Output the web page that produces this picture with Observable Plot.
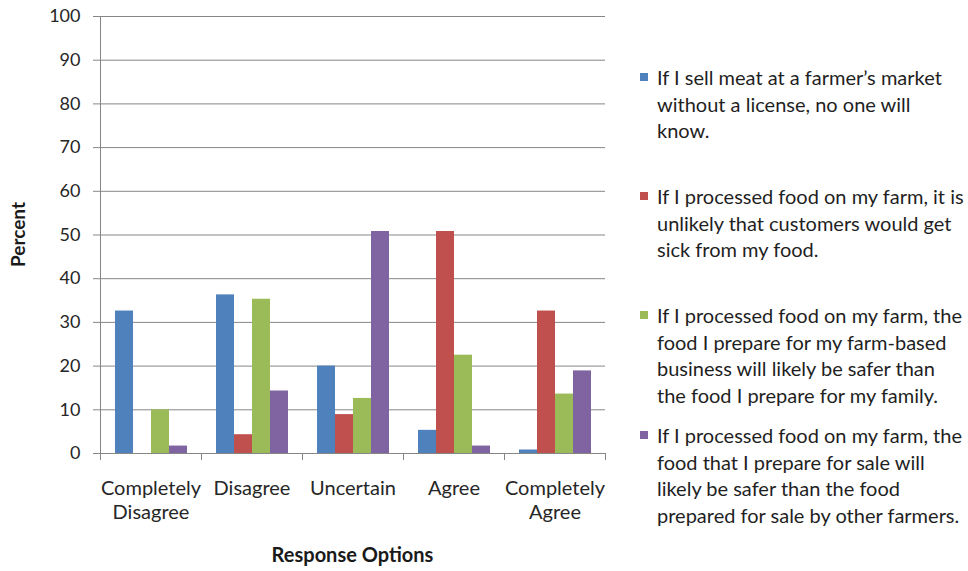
<!DOCTYPE html>
<html>
<head>
<meta charset="utf-8">
<script src="https://cdn.jsdelivr.net/npm/d3@7"></script>
<script src="https://cdn.jsdelivr.net/npm/@observablehq/plot@0.6"></script>
<style>
  body { margin: 0; background: #fff; font-family: Lato, "Open Sans", sans-serif; }
  #wrap { position: relative; width: 968px; height: 571px; overflow: hidden; }
  #chart { position: absolute; left: 0; top: 0; }
  .leg { position: absolute; left: 640px; font-size: 20px; line-height: 26.5px; color: #1f1f1f; white-space: pre; }
  .leg .sw { position: absolute; left: 0; top: 9px; width: 8px; height: 8px; }
  .leg .tx { margin-left: 17px; }
</style>
</head>
<body>
<div id="wrap"><div id="chart"></div><div id="legend"></div></div>
<script>
// ---- data ----
const categories = ["Completely Disagree", "Disagree", "Uncertain", "Agree", "Completely Agree"];
const categoryLabels = ["Completely\nDisagree", "Disagree", "Uncertain", "Agree", "Completely\nAgree"];
const seriesKeys = ["sellMeat", "unlikelySick", "saferThanFamily", "saferThanOthers"];
const seriesNames = [
  "If I sell meat at a farmer\u2019s market\nwithout a license, no one will\nknow.",
  "If I processed food on my farm, it is\nunlikely that customers would get\nsick from my food.",
  "If I processed food on my farm, the\nfood I prepare for my farm-based\nbusiness will likely be safer than\nthe food I prepare for my family.",
  "If I processed food on my farm, the\nfood that I prepare for sale will\nlikely be safer than the food\nprepared for sale by other farmers."
];
const sellMeat        = [32.6, 36.3, 20.0, 5.3, 0.8];
const unlikelySick    = [0.0, 4.3, 8.9, 50.8, 32.6];
const saferThanFamily = [10.0, 35.3, 12.6, 22.5, 13.6];
const saferThanOthers = [1.7, 14.3, 50.8, 1.7, 18.9];
const yTicks = [0, 10, 20, 30, 40, 50, 60, 70, 80, 90, 100];
const colors = ["#4F81BD", "#C0504D", "#9BBB59", "#8064A2"];

const seriesValues = [sellMeat, unlikelySick, saferThanFamily, saferThanOthers];
const data = categories.flatMap((c, i) =>
  seriesKeys.map((k, j) => ({cat: c, key: k, value: seriesValues[j][i]}))
);

const gridColor = "#868686";

const chart = Plot.plot({
  width: 625,
  height: 571,
  marginLeft: 100,
  marginRight: 20,
  marginTop: 16,
  marginBottom: 118,
  style: {fontFamily: "Lato, 'Open Sans', sans-serif", fontSize: "17px", color: "#262626", background: "white"},
  fx: {domain: categories, padding: 0, label: null, axis: null},
  x: {domain: seriesKeys, paddingInner: 0, paddingOuter: 0.71, axis: null},
  y: {domain: [0, 100], label: null},
  color: {domain: seriesKeys, range: colors},
  marks: [
    Plot.ruleY(yTicks, {stroke: gridColor, strokeWidth: 1}),
    Plot.barY(data, {fx: "cat", x: "key", y: "value", fill: "key"}),
    Plot.axisY({ticks: yTicks, tickSize: 7, tickPadding: 13, stroke: gridColor, fontSize: 18, label: null}),
    Plot.axisFx({anchor: "bottom", tickSize: 0, tickPadding: 24, fontSize: 20, lineHeight: 1.2, label: null,
      tickFormat: d => categoryLabels[categories.indexOf(d)]})
  ]
});

document.getElementById("chart").appendChild(chart);

// axis line and category separator ticks, from the library's scales
const svg = d3.select(chart.tagName.toLowerCase() === "svg" ? chart : chart.querySelector("svg"));
const fxs = chart.scale("fx");
const ys = chart.scale("y");
const [x0, x1] = fxs.range;
const [yb, yt] = ys.range;
const step = (x1 - x0) / categories.length;
const g = svg.append("g").attr("stroke", gridColor).attr("stroke-width", 1);
g.append("line").attr("x1", x0 + 0.5).attr("x2", x0 + 0.5).attr("y1", yt).attr("y2", yb + 7);
for (let i = 1; i <= categories.length; i++) {
  const x = Math.round(x0 + i * step) + 0.5;
  g.append("line").attr("x1", x).attr("x2", x).attr("y1", yb).attr("y2", yb + 7);
}
svg.append("text")
  .attr("transform", `translate(20,${(yt + yb) / 2}) rotate(-90)`)
  .attr("text-anchor", "middle").attr("dominant-baseline", "middle")
  .attr("font-weight", "bold").attr("font-size", 19).attr("fill", "#1a1a1a")
  .text("Percent");
svg.append("text")
  .attr("x", (x0 + x1) / 2).attr("y", yb + 104)
  .attr("text-anchor", "middle").attr("dominant-baseline", "middle")
  .attr("font-weight", "bold").attr("font-size", 20).attr("fill", "#1a1a1a")
  .text("Response Options");

// legend
const legendTops = [64, 183, 302, 422];
const legend = document.getElementById("legend");
seriesNames.forEach((name, i) => {
  const d = document.createElement("div");
  d.className = "leg";
  d.style.top = legendTops[i] + "px";
  const sw = document.createElement("div");
  sw.className = "sw";
  sw.style.background = colors[i];
  const tx = document.createElement("div");
  tx.className = "tx";
  tx.textContent = name;
  d.appendChild(sw);
  d.appendChild(tx);
  legend.appendChild(d);
});
</script>
</body>
</html>
